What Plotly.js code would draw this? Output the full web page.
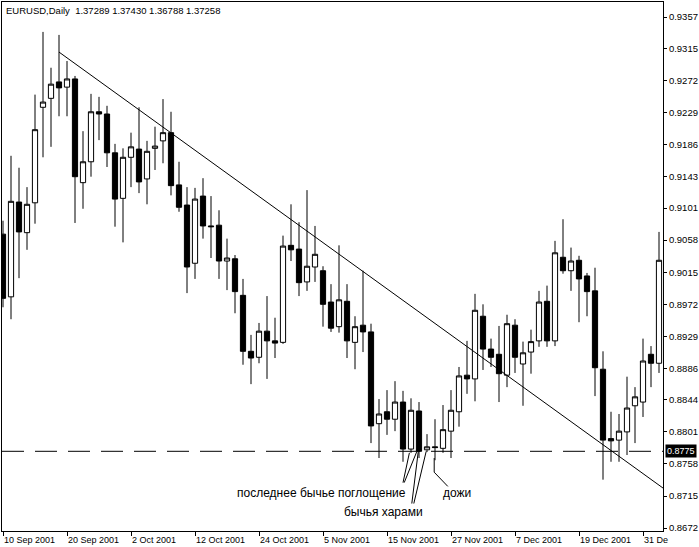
<!DOCTYPE html>
<html>
<head>
<meta charset="utf-8">
<script src="https://cdn.plot.ly/plotly-3.0.1.min.js"></script>
<style>html,body{margin:0;padding:0;background:#fff;}#chart{width:699px;height:547px;}</style>
</head>
<body>
<div id="chart"></div>
<script>
// Trading days (categories)
const dates = [
  "2001-09-10","2001-09-11","2001-09-12","2001-09-13","2001-09-14","2001-09-17","2001-09-18","2001-09-19","2001-09-20","2001-09-21",
  "2001-09-24","2001-09-25","2001-09-26","2001-09-27","2001-09-28","2001-10-01","2001-10-02","2001-10-03","2001-10-04","2001-10-05",
  "2001-10-08","2001-10-09","2001-10-10","2001-10-11","2001-10-12","2001-10-15","2001-10-16","2001-10-17","2001-10-18","2001-10-19",
  "2001-10-22","2001-10-23","2001-10-24","2001-10-25","2001-10-26","2001-10-29","2001-10-30","2001-10-31","2001-11-01","2001-11-02",
  "2001-11-05","2001-11-06","2001-11-07","2001-11-08","2001-11-09","2001-11-12","2001-11-13","2001-11-14","2001-11-15","2001-11-16",
  "2001-11-19","2001-11-20","2001-11-21","2001-11-22","2001-11-23","2001-11-26","2001-11-27","2001-11-28","2001-11-29","2001-11-30",
  "2001-12-03","2001-12-04","2001-12-05","2001-12-06","2001-12-07","2001-12-10","2001-12-11","2001-12-12","2001-12-13","2001-12-14",
  "2001-12-17","2001-12-18","2001-12-19","2001-12-20","2001-12-21","2001-12-24","2001-12-25","2001-12-26","2001-12-27","2001-12-28",
  "2001-12-31","2002-01-01","2002-01-02"
];
const openP = [
  0.9066,0.8982,0.9109,0.9068,0.9108,0.9236,0.9248,0.9270,0.9263,0.9274,
  0.9135,0.9163,0.9230,0.9227,0.9175,0.9114,0.9169,0.9180,0.9140,0.9181,
  0.9191,0.9202,0.9132,0.9105,0.9027,0.9117,0.9077,0.9078,0.9030,0.9033,
  0.8984,0.8909,0.8901,0.8936,0.8923,0.8921,0.9051,0.9046,0.9002,0.9022,
  0.9017,0.8975,0.8942,0.8976,0.8921,0.8944,0.8935,0.8812,0.8828,0.8818,
  0.8841,0.8778,0.8829,0.8777,0.8781,0.8779,0.8802,0.8828,0.8877,0.8872,
  0.8956,0.8912,0.8905,0.8877,0.8944,0.8892,0.8908,0.8923,0.8976,0.8923,
  0.9035,0.9017,0.9031,0.9010,0.8990,0.8885,0.8792,0.8790,0.8801,0.8836,
  0.8841,0.8905,0.8893
];
const highP = [
  0.9084,0.9171,0.9155,0.9129,0.9253,0.9337,0.9289,0.9333,0.9298,0.9278,
  0.9204,0.9254,0.9250,0.9238,0.9187,0.9181,0.9202,0.9236,0.9191,0.9210,
  0.9247,0.9230,0.9163,0.9129,0.9128,0.9141,0.9117,0.9098,0.9060,0.9038,
  0.9006,0.8931,0.8947,0.8983,0.8954,0.9064,0.9106,0.9082,0.9125,0.9077,
  0.9023,0.8999,0.9051,0.8999,0.8956,0.9017,0.8946,0.8845,0.8857,0.8869,
  0.8856,0.8846,0.8841,0.8798,0.8818,0.8837,0.8857,0.8888,0.8923,0.8986,
  0.8972,0.8926,0.8943,0.8958,0.8952,0.8922,0.8938,0.8990,0.8997,0.9057,
  0.9086,0.9048,0.9037,0.9014,0.9021,0.8909,0.8828,0.8825,0.8875,0.8861,
  0.8926,0.8916,0.9069
];
const lowP = [
  0.8968,0.8952,0.9007,0.9045,0.9080,0.9169,0.9183,0.9224,0.9224,0.9081,
  0.9100,0.9143,0.9192,0.9156,0.9076,0.9055,0.9129,0.9121,0.9106,0.9152,
  0.9161,0.9118,0.9096,0.8987,0.9006,0.9060,0.9034,0.9006,0.8991,0.8960,
  0.8891,0.8865,0.8893,0.8872,0.8900,0.8919,0.9030,0.8983,0.8990,0.9002,
  0.8942,0.8935,0.8934,0.8900,0.8885,0.8908,0.8786,0.8766,0.8797,0.8802,
  0.8761,0.8773,0.8766,0.8774,0.8763,0.8773,0.8766,0.8808,0.8852,0.8842,
  0.8884,0.8888,0.8841,0.8861,0.8880,0.8836,0.8879,0.8915,0.8915,0.8916,
  0.9013,0.8990,0.8948,0.8956,0.8849,0.8737,0.8761,0.8761,0.8770,0.8786,
  0.8821,0.8861,0.8880
];
const closeP = [
  0.8980,0.9110,0.9069,0.9106,0.9206,0.9243,0.9267,0.9262,0.9274,0.9143,
  0.9163,0.9230,0.9227,0.9175,0.9113,0.9169,0.9183,0.9136,0.9177,0.9184,
  0.9202,0.9131,0.9102,0.9022,0.9113,0.9077,0.9076,0.9030,0.9034,0.8989,
  0.8909,0.8900,0.8936,0.8923,0.8920,0.9050,0.9045,0.9001,0.9023,0.9039,
  0.8972,0.8940,0.8978,0.8923,0.8942,0.8935,0.8809,0.8825,0.8818,0.8841,
  0.8778,0.8830,0.8775,0.8781,0.8780,0.8804,0.8830,0.8876,0.8872,0.8964,
  0.8912,0.8901,0.8879,0.8946,0.8901,0.8907,0.8922,0.8975,0.8923,0.9041,
  0.9017,0.9030,0.9006,0.8989,0.8887,0.8790,0.8789,0.8802,0.8833,0.8848,
  0.8896,0.8893,0.9031
];
// Axis tick labels
const xTickDates = ["2001-09-10","2001-09-20","2001-10-02","2001-10-12","2001-10-24","2001-11-05","2001-11-15","2001-11-27","2001-12-07","2001-12-19","2001-12-31"];
const xTickText = ["10 Sep 2001","20 Sep 2001","2 Oct 2001","12 Oct 2001","24 Oct 2001","5 Nov 2001","15 Nov 2001","27 Nov 2001","7 Dec 2001","19 Dec 2001","31 De"];
const yTickVals = [0.9357,0.9315,0.9272,0.9229,0.9186,0.9143,0.9101,0.9058,0.9015,0.8972,0.8929,0.8886,0.8844,0.8801,0.8758,0.8715,0.8672];
const currentPrice = 0.8775;
// Trend line (bar index, price)
const trendX = [7, 82.6];
const trendY = [0.9310, 0.8725];
const headerText = "EURUSD,Daily\u00a0\u00a01.37289 1.37430 1.36788 1.37258";
const labels = ["последнее бычье поглощение", "бычья харами", "дожи"];

const FONT = "Liberation Sans, Arial, sans-serif";

const trace = {
  type: "candlestick",
  x: dates, open: openP, high: highP, low: lowP, close: closeP,
  increasing: {line: {color: "#000", width: 1}, fillcolor: "#fff"},
  decreasing: {line: {color: "#000", width: 1}, fillcolor: "#000"},
  whiskerwidth: 0,
  hoverinfo: "skip",
  showlegend: false
};

const annotations = [];
annotations.push({xref: "paper", yref: "paper", x: 0, y: 1, xanchor: "left", yanchor: "top",
  xshift: 2, yshift: -1, showarrow: false, text: headerText, font: {family: FONT, size: 9.5, color: "#000"}});
xTickDates.forEach((d, i) => {
  annotations.push({xref: "x", yref: "paper", x: dates.indexOf(d), y: 0, xanchor: "left", yanchor: "top",
    xshift: -1, yshift: -2, showarrow: false, text: xTickText[i], font: {family: FONT, size: 9, color: "#000"}});
});
annotations.push({xref: "paper", yref: "y", x: 1, y: currentPrice, xanchor: "left", yanchor: "middle",
  xshift: 2, showarrow: false, text: currentPrice.toFixed(4), bgcolor: "#000", borderpad: 1,
  font: {family: FONT, size: 9, color: "#fff"}});
annotations.push({xref: "x", yref: "y", x: 50.6, y: 0.8719, xanchor: "right", yanchor: "middle",
  showarrow: false, text: labels[0], font: {family: FONT, size: 12, color: "#000"}});
annotations.push({xref: "x", yref: "y", x: 52.8, y: 0.8694, xanchor: "right", yanchor: "middle",
  showarrow: false, text: labels[1], font: {family: FONT, size: 12, color: "#000"}});
annotations.push({xref: "x", yref: "y", x: 54.8, y: 0.8719, xanchor: "left", yanchor: "middle",
  showarrow: false, text: labels[2], font: {family: FONT, size: 12, color: "#000"}});

const thin = {color: "#000", width: 1};
const shapes = [
  {type: "line", xref: "paper", yref: "y", x0: 0, x1: 1, y0: currentPrice, y1: currentPrice,
   line: {color: "#000", width: 1, dash: "22px,11px"}},
  {type: "line", xref: "x", yref: "y", x0: trendX[0], y0: trendY[0], x1: trendX[1], y1: trendY[1], line: thin},
  {type: "line", xref: "x", yref: "y", x0: 50.0, y0: 0.8733, x1: 50.8, y1: 0.8773, line: thin},
  {type: "line", xref: "x", yref: "y", x0: 50.15, y0: 0.8733, x1: 51.7, y1: 0.8774, line: thin},
  {type: "line", xref: "x", yref: "y", x0: 51.1, y0: 0.8705, x1: 51.9, y1: 0.8774, line: thin},
  {type: "line", xref: "x", yref: "y", x0: 51.35, y0: 0.8705, x1: 52.9, y1: 0.8775, line: thin},
  {type: "path", xref: "x", yref: "y", path: "M 53.9 0.8766 L 53.9 0.8747 L 55.6 0.8728", line: thin}
];

const layout = {
  width: 699, height: 547,
  margin: {l: 2, r: 36, t: 2, b: 16, pad: 0},
  paper_bgcolor: "#fff", plot_bgcolor: "#fff",
  showlegend: false,
  boxgap: 0.35, boxgroupgap: 0,
  xaxis: {
    type: "category", range: [-0.125, 82.5],
    rangeslider: {visible: false},
    showgrid: false, zeroline: false,
    showline: true, mirror: true, linecolor: "#000", linewidth: 1,
    tickmode: "array", tickvals: xTickDates, ticktext: xTickDates.map(() => ""),
    ticks: "outside", ticklen: 4, tickcolor: "#000", tickwidth: 1,
    showticklabels: false, fixedrange: true
  },
  yaxis: {
    side: "right", range: [0.86682, 0.93771],
    showgrid: false, zeroline: false,
    showline: true, mirror: true, linecolor: "#000", linewidth: 1,
    tickmode: "array", tickvals: yTickVals, ticktext: yTickVals.map(v => v.toFixed(4)),
    ticks: "outside", ticklen: 3, tickcolor: "#000", tickwidth: 1,
    tickfont: {family: FONT, size: 9.5, color: "#000"}, fixedrange: true
  },
  annotations: annotations,
  shapes: shapes,
  hovermode: false
};

Plotly.newPlot("chart", [trace], layout, {staticPlot: true, displayModeBar: false});
</script>
</body>
</html>
